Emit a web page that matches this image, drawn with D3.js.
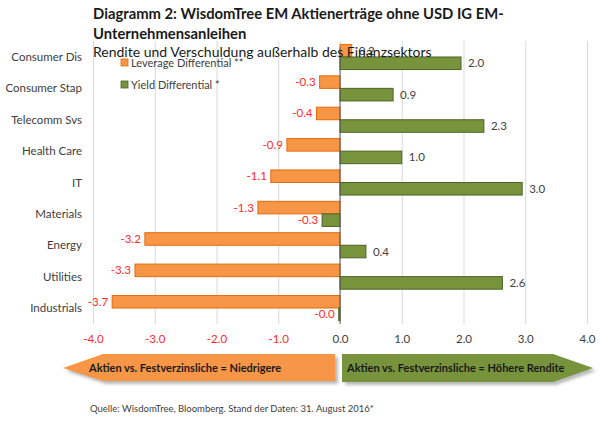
<!DOCTYPE html>
<html>
<head>
<meta charset="utf-8">
<script src="https://cdn.jsdelivr.net/npm/d3@7"></script>
<style>
  body { margin: 0; background: #fff; }
  svg { font-family: Lato, "Open Sans", sans-serif; }
</style>
</head>
<body>
<div id="chart"></div>
<script>
let categories = ["Consumer Dis", "Consumer Stap", "Telecomm Svs", "Health Care", "IT",
                  "Materials", "Energy", "Utilities", "Industrials"];
let leverage = [0.19, -0.33, -0.38, -0.86, -1.12, -1.33, -3.16, -3.32, -3.69];
let yieldDiff = [1.96, 0.86, 2.33, 1.0, 2.95, -0.29, 0.42, 2.63, -0.02];
let xTicks = [-4, -3, -2, -1, 0, 1, 2, 3, 4];
let seriesNames = ["Leverage Differential **", "Yield Differential *"];

let width = 600, height = 429;
let orange = "#F79646", orangeStroke = "#E46C0A";
let green = "#77933C", greenStroke = "#4F6228";
let red = "#FF2B2B", dark = "#404040";
let fmt = v => v.toFixed(1);

let svg = d3.select("#chart").append("svg")
    .attr("width", width)
    .attr("height", height);

let defs = svg.append("defs");
defs.append("filter").attr("id", "shadow")
    .attr("x", "-5%").attr("y", "-20%").attr("width", "110%").attr("height", "150%")
    .append("feGaussianBlur").attr("stdDeviation", 1.5);

let x = d3.scaleLinear().domain([-4, 4]).range([93, 587]);
let y = d3.scaleBand().domain(categories).range([41.3, 323.7]).paddingInner(0.2).paddingOuter(0.1);
let sub = d3.scaleBand().domain(["lev", "yld"]).range([0, y.bandwidth()]);

// gridlines
svg.append("g")
    .attr("transform", "translate(0,324)")
    .call(d3.axisBottom(x).tickValues(xTicks).tickSize(-283).tickFormat(""))
    .call(g => g.select(".domain").remove())
    .call(g => g.selectAll("line").attr("stroke", "#D9D9D9"));

// tick labels
svg.append("g")
    .attr("transform", "translate(0,332)")
    .call(d3.axisBottom(x).tickValues(xTicks).tickSize(0).tickFormat(fmt))
    .call(g => g.select(".domain").remove())
    .call(g => g.selectAll("text")
        .attr("font-size", 11.5)
        .attr("font-family", "Lato, sans-serif")
        .attr("fill", d => d < 0 ? red : dark));

let rows = categories.map((c, i) => ({ cat: c, lev: leverage[i], yld: yieldDiff[i] }));

let lev = svg.append("g");
lev.selectAll("rect")
    .data(rows)
    .enter()
    .append("rect")
    .attr("x", d => x(Math.min(0, d.lev)))
    .attr("y", d => y(d.cat) + sub("lev"))
    .attr("width", d => Math.abs(x(d.lev) - x(0)))
    .attr("height", sub.bandwidth())
    .attr("fill", orange)
    .attr("stroke", orangeStroke)
    .attr("stroke-width", 1);

let yld = svg.append("g");
yld.selectAll("rect")
    .data(rows)
    .enter()
    .append("rect")
    .attr("x", d => x(Math.min(0, d.yld)))
    .attr("y", d => y(d.cat) + sub("yld"))
    .attr("width", d => Math.abs(x(d.yld) - x(0)))
    .attr("height", sub.bandwidth())
    .attr("fill", green)
    .attr("stroke", greenStroke)
    .attr("stroke-width", 1);

// zero line
svg.append("line")
    .attr("x1", x(0)).attr("x2", x(0))
    .attr("y1", y.range()[0] + 6).attr("y2", y.range()[1])
    .attr("stroke", "#595959")
    .attr("stroke-width", 1);

// value labels
function valueLabels(key) {
    svg.append("g").selectAll("text")
        .data(rows)
        .enter()
        .append("text")
        .attr("x", d => d[key] < 0 ? x(d[key]) - 4 : x(d[key]) + 7)
        .attr("y", d => y(d.cat) + sub(key) + sub.bandwidth() / 2)
        .attr("dy", "0.35em")
        .attr("text-anchor", d => d[key] < 0 ? "end" : "start")
        .attr("font-size", 11.5)
        .attr("fill", d => d[key] < 0 ? red : dark)
        .text(d => fmt(d[key]));
}
valueLabels("lev");
valueLabels("yld");

// category labels
svg.append("g").selectAll("text")
    .data(categories)
    .enter()
    .append("text")
    .attr("x", 82)
    .attr("y", d => y(d) + y.bandwidth() / 2)
    .attr("dy", "0.35em")
    .attr("text-anchor", "end")
    .attr("font-size", 11.5)
    .attr("fill", dark)
    .text(d => d);

// legend
let legend = svg.append("g");
[orange, green].forEach((c, i) => {
    legend.append("rect")
        .attr("x", 121).attr("y", 59 + i * 22)
        .attr("width", 7).attr("height", 7)
        .attr("fill", c)
        .attr("stroke", i ? greenStroke : orangeStroke)
        .attr("stroke-width", 0.8);
    legend.append("text")
        .attr("x", 131).attr("y", 63 + i * 22)
        .attr("dy", "0.35em")
        .attr("font-size", 11)
        .attr("fill", dark)
        .text(seriesNames[i]);
});

// title and subtitle
svg.append("text")
    .attr("x", 93).attr("y", 19)
    .attr("font-size", 14.8).attr("font-weight", "bold").attr("fill", "#1a1a1a")
    .text("Diagramm 2: WisdomTree EM Aktienerträge ohne USD IG EM-");
svg.append("text")
    .attr("x", 93).attr("y", 39)
    .attr("font-size", 14.8).attr("font-weight", "bold").attr("fill", "#1a1a1a")
    .text("Unternehmensanleihen");
svg.append("text")
    .attr("x", 93).attr("y", 57)
    .attr("font-size", 14).attr("fill", "#1a1a1a")
    .text("Rendite und Verschuldung außerhalb des Finanzsektors");

// arrows
let shadow = svg.append("g").attr("fill", "#8c8c8c").attr("opacity", 0.6).attr("filter", "url(#shadow)");
shadow.append("polygon").attr("points", "66,371 106,357 338,357 338,384 106,384");
shadow.append("polygon").attr("points", "345,357 556,357 596,371 556,385 345,385");

svg.append("polygon")
    .attr("points", "63,368 103,354 335,354 335,381 103,381")
    .attr("fill", orange);
svg.append("polygon")
    .attr("points", "342,354 553,354 593,368 553,382 342,382")
    .attr("fill", green);

svg.append("text")
    .attr("x", 89).attr("y", 368).attr("dy", "0.35em")
    .attr("font-size", 11).attr("font-weight", "bold").attr("fill", "#1a1a1a")
    .text("Aktien vs. Festverzinsliche = Niedrigere");
svg.append("text")
    .attr("x", 347).attr("y", 368).attr("dy", "0.35em")
    .attr("font-size", 11).attr("font-weight", "bold").attr("fill", "#1a1a1a")
    .text("Aktien vs. Festverzinsliche = Höhere Rendite");

// source
svg.append("text")
    .attr("x", 90).attr("y", 409).attr("dy", "0.35em")
    .attr("font-size", 9.5).attr("fill", "#404040")
    .text("Quelle: WisdomTree, Bloomberg. Stand der Daten: 31. August 2016*");
</script>
</body>
</html>
